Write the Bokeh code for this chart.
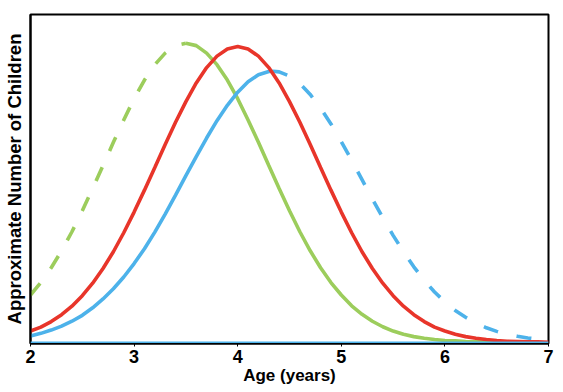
from bokeh.plotting import figure
from bokeh.models import Range1d, FixedTicker, Span
from bokeh.embed import file_html
from bokeh.resources import INLINE

# ---- data ----
green_dash_age = [2.0, 2.1, 2.2, 2.3, 2.4, 2.5, 2.6, 2.7, 2.8, 2.9, 3.0, 3.1, 3.2, 3.3, 3.4, 3.5]
green_dash_val = [0.144, 0.182, 0.227, 0.279, 0.337, 0.401, 0.469, 0.539, 0.610, 0.678,
                  0.743, 0.800, 0.847, 0.882, 0.905, 0.912]
green_solid_age = [3.5, 3.6, 3.7, 3.8, 3.9, 4.0, 4.1, 4.2, 4.3, 4.4, 4.5, 4.6, 4.7, 4.8, 4.9,
                   5.0, 5.1, 5.2, 5.3, 5.4, 5.5, 5.6, 5.7, 5.8, 5.9, 6.0, 6.1, 6.2, 6.3, 6.4, 6.5]
green_solid_val = [0.912, 0.905, 0.882, 0.847, 0.800, 0.743, 0.678, 0.610, 0.539, 0.469,
                   0.401, 0.337, 0.279, 0.227, 0.182, 0.144, 0.111, 0.085, 0.064, 0.047,
                   0.034, 0.024, 0.017, 0.012, 0.008, 0.005, 0.004, 0.002, 0.001, 0.001, 0.0]

red_age = [2.0, 2.1, 2.2, 2.3, 2.4, 2.5, 2.6, 2.7, 2.8, 2.9, 3.0, 3.1, 3.2, 3.3, 3.4, 3.5,
           3.6, 3.7, 3.8, 3.9, 4.0, 4.1, 4.2, 4.3, 4.4, 4.5, 4.6, 4.7, 4.8, 4.9, 5.0, 5.1,
           5.2, 5.3, 5.4, 5.5, 5.6, 5.7, 5.8, 5.9, 6.0, 6.1, 6.2, 6.3, 6.4, 6.5, 6.6, 6.7,
           6.8, 6.9, 7.0]
red_val = [0.034, 0.046, 0.063, 0.084, 0.110, 0.142, 0.180, 0.225, 0.276, 0.334, 0.397,
           0.464, 0.533, 0.603, 0.671, 0.734, 0.791, 0.838, 0.873, 0.895, 0.902, 0.895,
           0.873, 0.838, 0.791, 0.734, 0.671, 0.603, 0.533, 0.464, 0.397, 0.334, 0.276,
           0.225, 0.180, 0.142, 0.110, 0.084, 0.063, 0.046, 0.034, 0.024, 0.017, 0.012,
           0.008, 0.005, 0.003, 0.002, 0.001, 0.001, 0.0]

blue_solid_age = [2.0, 2.1, 2.2, 2.3, 2.4, 2.5, 2.6, 2.7, 2.8, 2.9, 3.0, 3.1, 3.2, 3.3, 3.4,
                  3.5, 3.6, 3.7, 3.8, 3.9, 4.0, 4.1, 4.2, 4.3, 4.34]
blue_solid_val = [0.019, 0.027, 0.037, 0.049, 0.064, 0.082, 0.105, 0.132, 0.163, 0.199,
                  0.240, 0.285, 0.336, 0.391, 0.449, 0.508, 0.566, 0.623, 0.676, 0.723,
                  0.763, 0.795, 0.816, 0.826, 0.827]
blue_dash_age = [4.34, 4.4, 4.5, 4.6, 4.7, 4.8, 4.9, 5.0, 5.1, 5.2, 5.3, 5.4, 5.5, 5.6, 5.7,
                 5.8, 5.9, 6.0, 6.1, 6.2, 6.3, 6.4, 6.5, 6.6, 6.7, 6.8, 6.9, 7.0]
blue_dash_val = [0.827, 0.825, 0.812, 0.789, 0.756, 0.714, 0.666, 0.612, 0.555, 0.496,
                 0.437, 0.380, 0.326, 0.276, 0.230, 0.189, 0.153, 0.123, 0.097, 0.076,
                 0.058, 0.044, 0.033, 0.024, 0.018, 0.013, 0.009, 0.006]

x_ticks = [2, 3, 4, 5, 6, 7]

GREEN = "#9CCD5C"
RED = "#E8352A"
BLUE = "#4DB2EA"
FONT = "Liberation Sans"

p = figure(width=561, height=390, output_backend="svg", toolbar_location=None,
           x_range=Range1d(2, 7), y_range=Range1d(-0.004, 1.0),
           min_border_left=30, min_border_right=13, min_border_top=14, min_border_bottom=47)

p.xgrid.visible = False
p.ygrid.visible = False
p.outline_line_color = "black"
p.outline_line_width = 2

# baseline
p.add_layout(Span(location=0, dimension="width", line_color=BLUE, line_width=1.5))

LW = 3.6
p.line(green_dash_age, green_dash_val, line_color=GREEN, line_width=LW, line_dash="15 18")
p.line(green_solid_age, green_solid_val, line_color=GREEN, line_width=LW)
p.line(blue_solid_age, blue_solid_val, line_color=BLUE, line_width=LW)
p.line(blue_dash_age, blue_dash_val, line_color=BLUE, line_width=LW, line_dash="15 19")
p.line(red_age, red_val, line_color=RED, line_width=LW)

xa = p.xaxis[0]
xa.ticker = FixedTicker(ticks=x_ticks)
xa.minor_tick_line_color = None
xa.major_tick_in = 0
xa.major_tick_out = 3
xa.major_tick_line_color = "black"
xa.axis_line_color = "black"
xa.axis_line_width = 2
xa.major_label_text_font = FONT
xa.major_label_text_font_style = "bold"
xa.major_label_text_font_size = "18px"
xa.major_label_text_color = "black"
xa.major_label_standoff = 3
xa.axis_label = "Age (years)"
xa.axis_label_text_font = FONT
xa.axis_label_text_font_style = "bold"
xa.axis_label_text_font_size = "17px"
xa.axis_label_text_color = "black"
xa.axis_label_standoff = 0

ya = p.yaxis[0]
ya.ticker = FixedTicker(ticks=[])
ya.minor_tick_line_color = None
ya.major_tick_line_color = None
ya.major_label_text_font_size = "0px"
ya.axis_line_color = "black"
ya.axis_line_width = 2
ya.axis_label = "Approximate Number of Children"
ya.axis_label_text_font = FONT
ya.axis_label_text_font_style = "bold"
ya.axis_label_text_font_size = "18.5px"
ya.axis_label_text_color = "black"
ya.axis_label_standoff = 6

open("out.html", "w").write(file_html(p, INLINE))
